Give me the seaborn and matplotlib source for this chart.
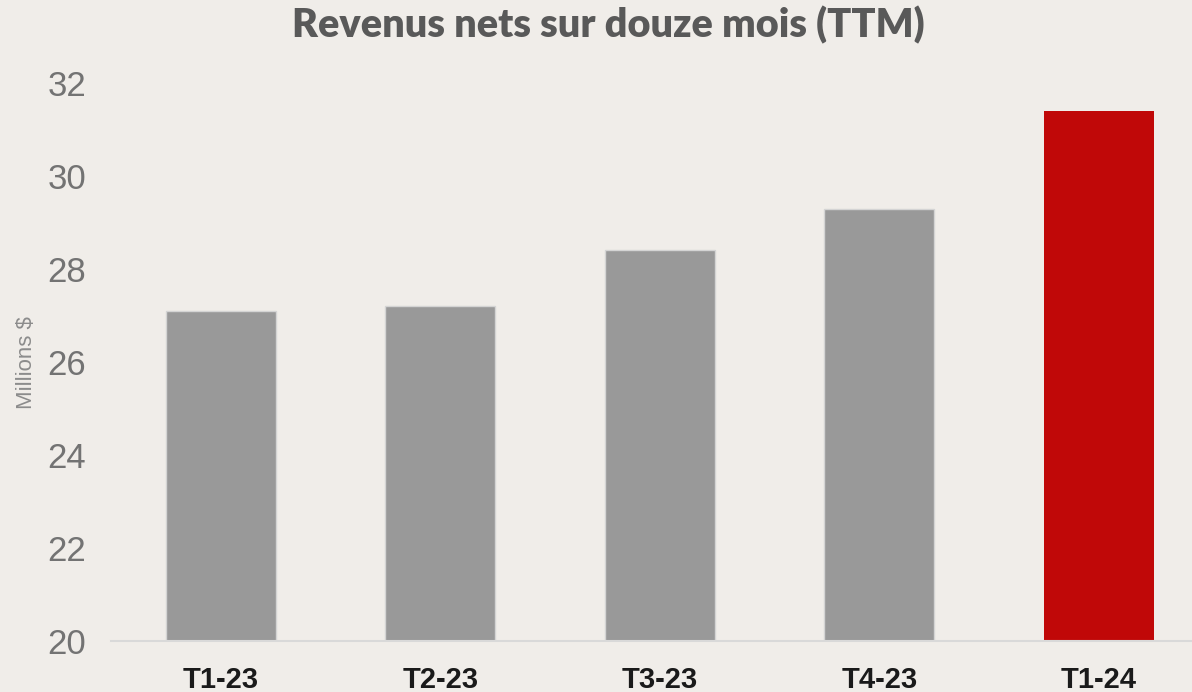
import numpy as np
import pandas as pd
import matplotlib
matplotlib.use("Agg")
import matplotlib.pyplot as plt
import seaborn as sns

# Données (millions $)
trimestres = ["T1-23", "T2-23", "T3-23", "T4-23", "T1-24"]
revenus = [27.1, 27.2, 28.4, 29.3, 31.4]
couleurs = ["#999999", "#999999", "#999999", "#999999", "#C00808"]

FOND = "#F0EDE9"

sns.set_theme(style="white")
plt.rcParams["font.family"] = ["Liberation Sans", "DejaVu Sans"]

df = pd.DataFrame({"Trimestre": trimestres, "Revenus": revenus})

fig = plt.figure(figsize=(11.92, 6.92), dpi=100, facecolor=FOND)
ax = fig.add_axes([111 / 1192, 51 / 692, 1 - 111 / 1192, 558 / 692])
ax.set_facecolor(FOND)

sns.barplot(data=df, x="Trimestre", y="Revenus", hue="Trimestre",
            palette=couleurs, legend=False, width=0.5, saturation=1, ax=ax)

# contour clair sur les barres grises seulement
for patch, c in zip(ax.patches, couleurs):
    if c == "#999999":
        patch.set_edgecolor("#D4D4D4")
        patch.set_linewidth(1.0)
    else:
        patch.set_linewidth(0)

ax.set_ylim(20, 32)
ax.set_xlim(-0.5, 4.425)
ax.set_yticks(np.arange(20, 33, 2))
ax.tick_params(axis="y", labelsize=25, labelcolor="#737373", length=0, pad=18)
ax.tick_params(axis="x", length=0, pad=18)
for lbl in ax.get_xticklabels():
    lbl.set_fontsize(21)
    lbl.set_fontweight("bold")
    lbl.set_color("#1a1a1a")

ax.set_xlabel("")
ax.set_ylabel("")
for side in ["top", "right", "left"]:
    ax.spines[side].set_visible(False)
ax.spines["bottom"].set_color("#D9D9D9")
ax.spines["bottom"].set_linewidth(1.5)

fig.text(27 / 1192, 1 - 363 / 692, "Millions $", rotation=90, ha="center",
         va="center", fontsize=16, color="#8C8C8C")
fig.text(608 / 1192, 1 - 25 / 692, "Revenus nets sur douze mois (TTM)",
         ha="center", va="center", fontsize=28.5, fontweight="heavy",
         color="#595959", family=["Lato", "DejaVu Sans"])

fig.savefig("out.png", dpi=100, facecolor=FOND)
